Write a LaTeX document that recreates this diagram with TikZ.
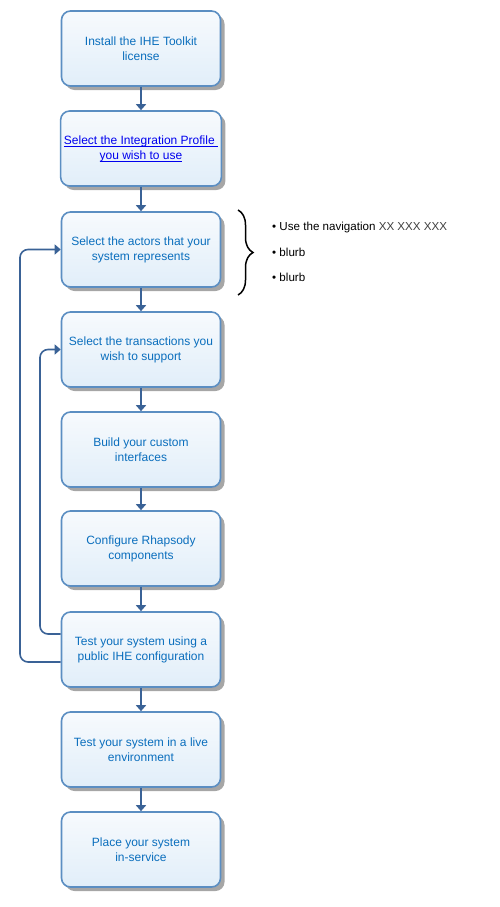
\documentclass[tikz,border=0pt]{standalone}
\usepackage{fontspec}
\setmainfont{Liberation Sans}
\usetikzlibrary{arrows.meta,shadows,decorations.pathreplacing}
\definecolor{boxline}{HTML}{5B8EC2}
\definecolor{boxtop}{HTML}{F7FAFD}
\definecolor{boxbot}{HTML}{E1EEF9}
\definecolor{txtblue}{HTML}{0A6EBD}
\definecolor{linkblue}{HTML}{0000EE}
\definecolor{conn}{HTML}{3A6296}
\newcommand{\myul}[1]{\underline{\raisebox{0pt}[\height][0pt]{#1}}}
\tikzset{
  stepbox/.style={draw=boxline, line width=1.6pt, rounded corners=9pt,
    minimum width=159pt, minimum height=75pt, top color=boxtop, bottom color=boxbot,
    text=txtblue, align=center, font=\fontsize{12}{15}\selectfont,
    drop shadow={shadow xshift=4pt, shadow yshift=-4pt, fill=black!35, opacity=1}},
  flow/.style={draw=conn, line width=1.6pt, -{Triangle[width=10pt,length=6pt]}},
  loopline/.style={flow, rounded corners=8pt},
  bullet/.style={anchor=west, font=\fontsize{11.6}{15}\selectfont, text=black, inner sep=0pt}
}
\begin{document}
\begin{tikzpicture}[x=1pt,y=-1pt]
\useasboundingbox (0,0) rectangle (500,907);
\node[stepbox] (b1) at (141,48.5) {Install the IHE Toolkit\\license};
\node[stepbox] (b2) at (141,148.5) {\color{linkblue}\myul{Select the Integration Profile }\\\color{linkblue}\myul{you wish to use}};
\node[stepbox] (b3) at (141,249.5) {Select the actors that your\\system represents};
\node[stepbox] (b4) at (141,349.5) {Select the transactions you\\wish to support};
\node[stepbox] (b5) at (141,449.5) {Build your custom\\interfaces};
\node[stepbox] (b6) at (141,548.5) {Configure Rhapsody\\components};
\node[stepbox] (b7) at (141,649.5) {Test your system using a\\public IHE configuration};
\node[stepbox] (b8) at (141,749.5) {Test your system in a live\\environment};
\node[stepbox] (b9) at (141,849.5) {Place your system\\in-service};
\foreach \a/\b in {b1/b2,b2/b3,b3/b4,b4/b5,b5/b6,b6/b7,b7/b8,b8/b9}
  \draw[flow] (\a.south) -- (\b.north);
\coordinate (l1) at ([yshift=-12.5pt]b7.west);
\coordinate (l2) at ([yshift=15.5pt]b7.west);
\draw[loopline] (l1) -- (20,662) |- (b3.west);
\draw[loopline] (l2) -- (40,634) |- (b4.west);
\draw[line width=1.5pt, decorate, decoration={brace, amplitude=15pt, aspect=0.5}] (238,210) -- (238,295);
\node[bullet] (t1) at (272,227) {• Use the navigation {\color{black!75}XX XXX XXX}};
\node[bullet] (t2) at (272,252) {• blurb};
\node[bullet] (t3) at (272,277) {• blurb};
\end{tikzpicture}
\end{document}
